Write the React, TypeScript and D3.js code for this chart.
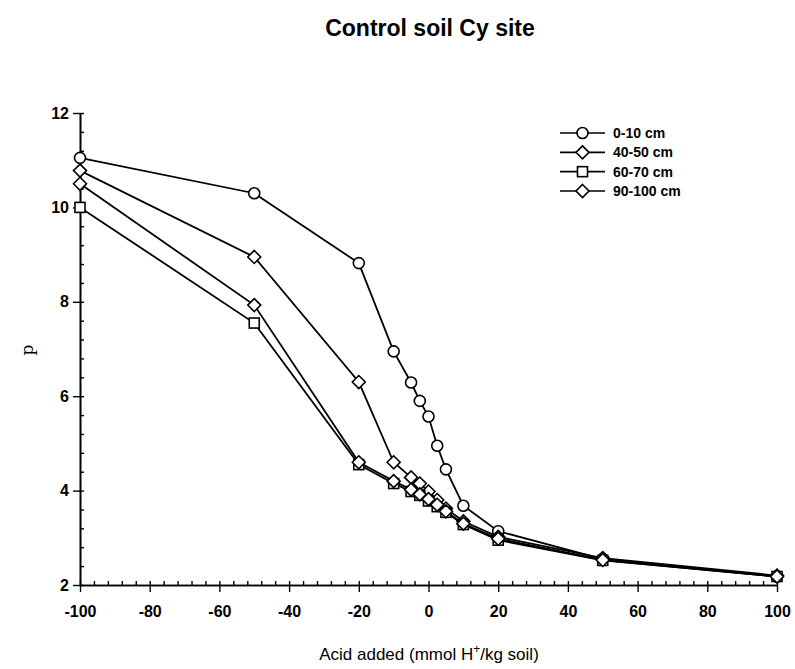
import React, {useEffect, useRef} from "react";
import * as d3 from "d3";

const acid: number[] = [-100, -50, -20, -10, -5, -2.5, 0, 2.5, 5, 10, 20, 50, 100];

const depth0_10: number[] = [11.05, 10.3, 8.82, 6.95, 6.29, 5.9, 5.57, 4.95, 4.45, 3.68, 3.14, 2.55, 2.18];
const depth40_50: number[] = [10.78, 8.95, 6.3, 4.6, 4.28, 4.15, 3.98, 3.8, 3.62, 3.35, 3.02, 2.57, 2.2];
const depth60_70: number[] = [10.0, 7.55, 4.55, 4.15, 3.98, 3.9, 3.78, 3.66, 3.54, 3.28, 2.95, 2.52, 2.18];
const depth90_100: number[] = [10.5, 7.93, 4.6, 4.2, 4.02, 3.92, 3.82, 3.7, 3.56, 3.3, 2.98, 2.53, 2.18];

const seriesNames: string[] = ["0-10 cm", "40-50 cm", "60-70 cm", "90-100 cm"];
const seriesMarkers: string[] = ["circle", "diamond", "square", "diamond"];

const xTicks: number[] = [-100, -80, -60, -40, -20, 0, 20, 40, 60, 80, 100];
const yTicks: number[] = [2, 4, 6, 8, 10, 12];

const FONT = "'Liberation Sans', Arial, Helvetica, sans-serif";

function drawMarker(g: d3.Selection<SVGGElement, unknown, null, undefined>, kind: string, cx: number, cy: number) {
  if (kind === "circle") {
    g.append("circle").attr("cx", cx).attr("cy", cy).attr("r", 5.5)
      .attr("fill", "#fff").attr("stroke", "#000").attr("stroke-width", 1.6);
  } else if (kind === "square") {
    g.append("rect").attr("x", cx - 5).attr("y", cy - 5).attr("width", 10).attr("height", 10)
      .attr("fill", "#fff").attr("stroke", "#000").attr("stroke-width", 1.6);
  } else {
    const s = 6.5;
    g.append("path").attr("d", `M${cx},${cy - s}L${cx + s},${cy}L${cx},${cy + s}L${cx - s},${cy}Z`)
      .attr("fill", "#fff").attr("stroke", "#000").attr("stroke-width", 1.6);
  }
}

export default function App(): React.ReactElement {
  const svgRef = useRef<SVGSVGElement>(null);

  useEffect(() => {
    if (svgRef.current === null) return;
    const svg = d3.select(svgRef.current);
    svg.selectAll("*").remove();

    const x = d3.scaleLinear().domain([-100, 100]).range([80, 777]);
    const y = d3.scaleLinear().domain([2, 12]).range([585, 113]);

    // title
    svg.append("text").attr("x", 430).attr("y", 36).attr("text-anchor", "middle")
      .attr("font-family", FONT).attr("font-size", 23).attr("font-weight", "bold")
      .text("Control soil Cy site");

    // minor ticks point inward, majors outward
    const xMinor = d3.range(-100, 100.01, 4);
    const yMinor = d3.range(2, 12.01, 0.4);

    const gx = svg.append("g").attr("transform", `translate(0,${y(2)})`);
    gx.call(d3.axisBottom(x).tickValues(xMinor).tickSize(-4).tickSizeOuter(0).tickFormat(() => ""));
    const gxMaj = svg.append("g").attr("transform", `translate(0,${y(2)})`);
    gxMaj.call(d3.axisBottom(x).tickValues(xTicks).tickSize(7).tickSizeOuter(0).tickPadding(14)
      .tickFormat(d => String(d)));
    gxMaj.selectAll(".tick text").attr("font-family", FONT).attr("font-size", 16).attr("font-weight", "bold");

    const gy = svg.append("g").attr("transform", `translate(${x(-100)},0)`);
    gy.call(d3.axisLeft(y).tickValues(yMinor).tickSize(-4).tickSizeOuter(0).tickFormat(() => ""));
    const gyMaj = svg.append("g").attr("transform", `translate(${x(-100)},0)`);
    gyMaj.call(d3.axisLeft(y).tickValues(yTicks).tickSize(7).tickSizeOuter(0).tickPadding(4)
      .tickFormat(d => String(d)));
    gyMaj.selectAll(".tick text").attr("font-family", FONT).attr("font-size", 16).attr("font-weight", "bold");
    svg.selectAll(".domain").attr("stroke-width", 1.6);
    svg.selectAll(".tick line").attr("stroke-width", 1.4);

    // axis labels
    const xl = svg.append("text").attr("x", 429).attr("y", 660).attr("text-anchor", "middle")
      .attr("font-family", FONT).attr("font-size", 17);
    xl.append("tspan").text("Acid added (mmol H");
    xl.append("tspan").attr("dy", -7).attr("font-size", 12).text("+");
    xl.append("tspan").attr("dy", 7).text("/kg soil)");

    svg.append("text").attr("transform", `translate(33,350) rotate(-90)`).attr("text-anchor", "middle")
      .attr("font-family", "'DejaVu Serif', serif").attr("font-size", 17).text("p");

    // series
    const series = [depth0_10, depth40_50, depth60_70, depth90_100];
    const line = d3.line<number>().x((d, i) => x(acid[i])).y(d => y(d));
    const gData = svg.append("g");
    series.forEach((vals, si) => {
      gData.append("path").attr("d", line(vals)).attr("fill", "none")
        .attr("stroke", "#000").attr("stroke-width", 1.8);
      const gm = gData.append("g");
      vals.forEach((v, i) => drawMarker(gm, seriesMarkers[si], x(acid[i]), y(v)));
    });

    // legend
    const legendY = d3.scaleLinear().domain([0, 3]).range([133, 191]);
    const gl = svg.append("g");
    seriesNames.forEach((name, i) => {
      const ly = legendY(i);
      gl.append("line").attr("x1", 560).attr("x2", 605).attr("y1", ly).attr("y2", ly)
        .attr("stroke", "#000").attr("stroke-width", 1.6);
      drawMarker(gl, seriesMarkers[i], 582.5, ly);
      gl.append("text").attr("x", 613).attr("y", ly + 5).attr("font-family", FONT)
        .attr("font-size", 14).attr("font-weight", "bold").text(name);
    });
  }, []);

  return (
    <svg ref={svgRef} width={795} height={669}
      style={{display: "block", position: "absolute", left: 0, top: 0}}></svg>
  );
}
